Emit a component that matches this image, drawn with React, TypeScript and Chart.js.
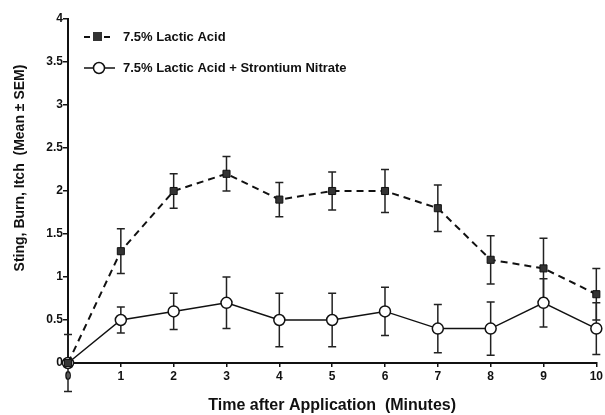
import { useEffect, useRef } from "react";
import { Chart, registerables } from "chart.js";

Chart.register(...registerables);

const minutes = ["0", "1", "2", "3", "4", "5", "6", "7", "8", "9", "10"];
const lacticMean = [0, 1.3, 2.0, 2.2, 1.9, 2.0, 2.0, 1.8, 1.2, 1.1, 0.8];
const lacticSem = [0.33, 0.26, 0.2, 0.2, 0.2, 0.22, 0.25, 0.27, 0.28, 0.35, 0.3];
const strontiumMean = [0, 0.5, 0.6, 0.7, 0.5, 0.5, 0.6, 0.4, 0.4, 0.7, 0.4];
const strontiumSem = [0, 0.15, 0.21, 0.3, 0.31, 0.31, 0.28, 0.28, 0.31, 0.28, 0.3];
const yTicks = [0, 0.5, 1, 1.5, 2, 2.5, 3, 3.5, 4];
const seriesNames = ["7.5% Lactic Acid", "7.5% Lactic Acid + Strontium Nitrate"];
const yTitle = "Sting, Burn, Itch  (Mean \u00b1 SEM)";
const xTitle = "Time after Application  (Minutes)";

const FONT = "'Liberation Sans', Arial, sans-serif";

const errorBars = {
  id: "errorBars",
  beforeDatasetsDraw(chart: any) {
    const { ctx, scales } = chart;
    const sems = [lacticSem, strontiumSem];
    ctx.save();
    ctx.strokeStyle = "#222";
    ctx.lineWidth = 1.5;
    chart.data.datasets.forEach((ds: any, di: number) => {
      ds.data.forEach((v: number, i: number) => {
        const e = sems[di][i];
        if (!e) return;
        const x = scales.x.getPixelForValue(i);
        const yt = scales.y.getPixelForValue(v + e);
        const yb = scales.y.getPixelForValue(v - e);
        ctx.beginPath();
        ctx.moveTo(x, yt);
        ctx.lineTo(x, yb);
        ctx.moveTo(x - 4, yt);
        ctx.lineTo(x + 4, yt);
        ctx.moveTo(x - 4, yb);
        ctx.lineTo(x + 4, yb);
        ctx.stroke();
      });
    });
    ctx.restore();
  },
  afterDraw(chart: any) {
    const { ctx } = chart;
    ctx.save();
    ctx.strokeStyle = "#111";
    ctx.fillStyle = "#111";
    // legend row 1
    ctx.lineWidth = 2;
    ctx.setLineDash([6, 4]);
    ctx.beginPath();
    ctx.moveTo(84, 37);
    ctx.lineTo(114, 37);
    ctx.stroke();
    ctx.setLineDash([]);
    ctx.fillStyle = "#333";
    ctx.fillRect(93, 32, 9, 9);
    // legend row 2
    ctx.lineWidth = 1.5;
    ctx.beginPath();
    ctx.moveTo(84, 68);
    ctx.lineTo(115, 68);
    ctx.stroke();
    ctx.beginPath();
    ctx.fillStyle = "#fff";
    ctx.arc(99, 68, 5.5, 0, Math.PI * 2);
    ctx.fill();
    ctx.stroke();
    ctx.fillStyle = "#111";
    ctx.font = `bold 13px ${FONT}`;
    ctx.textBaseline = "middle";
    ctx.fillText(seriesNames[0], 123, 37);
    ctx.fillText(seriesNames[1], 123, 68);
    // y title
    ctx.translate(20, 168);
    ctx.rotate(-Math.PI / 2);
    ctx.textAlign = "center";
    ctx.font = `bold 14px ${FONT}`;
    ctx.fillText(yTitle, 0, 0);
    ctx.restore();
  },
};

export default function App() {
  const ref = useRef<HTMLCanvasElement>(null);
  useEffect(() => {
    const chart = new Chart(ref.current!, {
      type: "line",
      data: {
        labels: minutes,
        datasets: [
          {
            label: seriesNames[0],
            data: lacticMean,
            borderColor: "#111",
            borderWidth: 2,
            borderDash: [7, 5],
            pointStyle: "rect",
            pointRadius: 5,
            pointBackgroundColor: "#333",
            pointBorderColor: "#111",
            pointBorderWidth: 1,
            tension: 0,
            clip: false as any,
          },
          {
            label: seriesNames[1],
            data: strontiumMean,
            borderColor: "#111",
            borderWidth: 1.5,
            pointStyle: "circle",
            pointRadius: 5.5,
            pointBackgroundColor: "#fff",
            pointBorderColor: "#111",
            pointBorderWidth: 1.5,
            tension: 0,
            clip: false as any,
          },
        ],
      },
      options: {
        animation: false,
        responsive: false,
        events: [],
        layout: { padding: { top: 19, right: 7, left: 0, bottom: 0 } },
        plugins: { legend: { display: false }, tooltip: { enabled: false } },
        scales: {
          x: {
            type: "category",
            offset: false,
            grid: { display: true, drawOnChartArea: false, tickLength: 4, color: "#111", lineWidth: 1.5 },
            border: { display: true, color: "#111", width: 2 },
            ticks: { color: "#111", font: { family: FONT, size: 12, weight: "bold" }, padding: 2, maxRotation: 0 },
            title: {
              display: true,
              text: xTitle,
              color: "#111",
              font: { family: FONT, size: 16, weight: "bold" },
              padding: { top: 10, bottom: 0 },
            },
            afterFit(scale: any) {
              scale.height = 52;
            },
          },
          y: {
            min: 0,
            max: 4,
            afterBuildTicks(scale: any) {
              scale.ticks = yTicks.map((v) => ({ value: v }));
            },
            grid: { display: true, drawOnChartArea: false, tickLength: 5, color: "#111", lineWidth: 1.5 },
            border: { display: true, color: "#111", width: 2 },
            ticks: {
              color: "#111",
              font: { family: FONT, size: 12, weight: "bold" },
              padding: 0,
              callback: (v: any) => String(v),
            },
            afterFit(scale: any) {
              scale.width = 68;
            },
          },
        },
      },
      plugins: [errorBars],
    });
    return () => chart.destroy();
  }, []);
  return (
    <div style={{ position: "absolute", left: 0, top: 0, width: 605, height: 415, background: "#fff" }}>
      <canvas ref={ref} width={605} height={415} />
    </div>
  );
}
